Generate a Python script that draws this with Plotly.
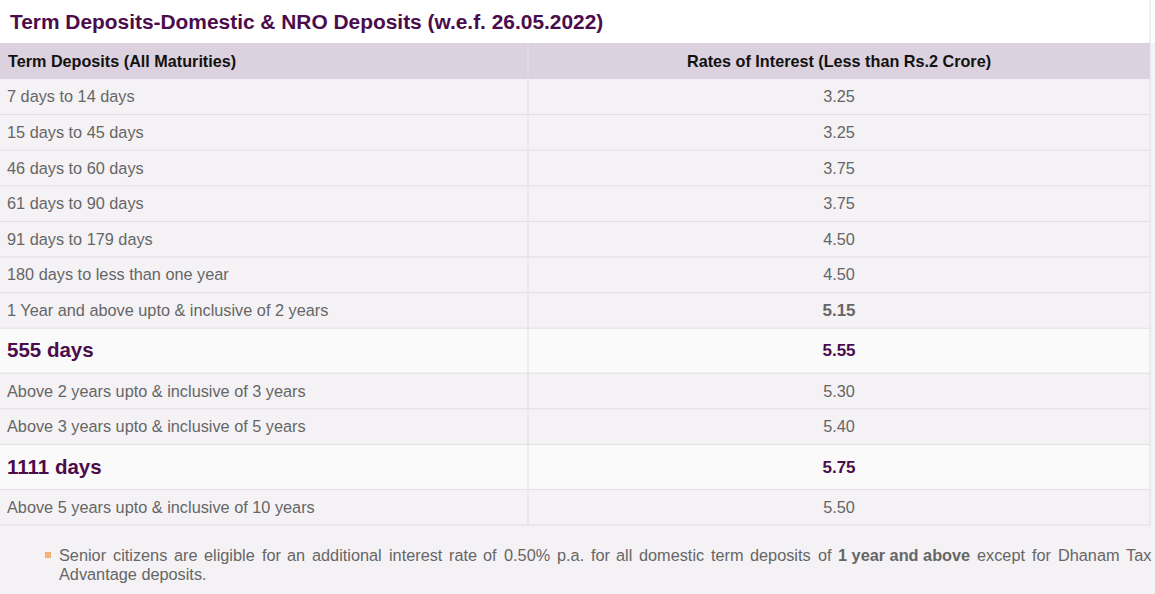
import numpy as np
import plotly.graph_objects as go

# Table content
title = "Term Deposits-Domestic & NRO Deposits (w.e.f. 26.05.2022)"
col_headers = ["Term Deposits (All Maturities)", "Rates of Interest (Less than Rs.2 Crore)"]
tenures = [
    "7 days to 14 days",
    "15 days to 45 days",
    "46 days to 60 days",
    "61 days to 90 days",
    "91 days to 179 days",
    "180 days to less than one year",
    "1 Year and above upto & inclusive of 2 years",
    "555 days",
    "Above 2 years upto & inclusive of 3 years",
    "Above 3 years upto & inclusive of 5 years",
    "1111 days",
    "Above 5 years upto & inclusive of 10 years",
]
rates = [3.25, 3.25, 3.75, 3.75, 4.50, 4.50, 5.15, 5.55, 5.30, 5.40, 5.75, 5.50]
special = [False, False, False, False, False, False, False, True, False, False, True, False]
bold_rate = [False, False, False, False, False, False, True, True, False, False, True, False]
note_words = ["Senior", "citizens", "are", "eligible", "for", "an", "additional", "interest", "rate", "of",
              "0.50%", "p.a.", "for", "all", "domestic", "term", "deposits", "of", "1 year and above",
              "except", "for", "Dhanam", "Tax"]
note_bold = "1 year and above"
note2 = "Advantage deposits."

# look
W, H = 1155, 594
FONT = "Liberation Sans, Arial, sans-serif"
PURPLE = "#4b0c4c"
GREY = "#666666"
LINE = "#e2dee3"
table_right = 1150
col_split = 528
header_top, header_h = 43, 36
normal_h, special_h = 35.6, 45
NOTE_SIZE = 16.3
note_left, note_right = 58, 1152

# Arial / Liberation Sans advance widths (1/1000 em), for justifying the note line
REG = dict(zip("abcdefghilmnoprstuvxyz", [556, 556, 500, 556, 556, 278, 556, 556, 222, 222, 833, 556, 556,
                                          556, 333, 500, 278, 556, 500, 500, 500, 500]))
REG.update({"S": 667, "D": 722, "T": 611, ".": 278, "%": 889, " ": 278})
REG.update({d: 556 for d in "0123456789"})
BOLD = {"1": 556, " ": 278, "y": 556, "e": 556, "a": 556, "r": 389, "n": 611, "d": 611, "b": 611,
        "o": 611, "v": 556}


def text_width(s, bold=False):
    table = BOLD if bold else REG
    return sum(table.get(c, 556) for c in s) * NOTE_SIZE / 1000


widths = np.array([text_width(w, w == note_bold) for w in note_words])
gap = (note_right - note_left - widths.sum()) / (len(note_words) - 1)
note_x = note_left + np.concatenate([[0], np.cumsum(widths[:-1] + gap)])

heights = np.array([special_h if s else normal_h for s in special])
bottoms = header_top + header_h + np.cumsum(heights)
tops = bottoms - heights
centers = (tops + bottoms) / 2 + 1.5

shapes = []
# title strip
shapes.append(dict(type="rect", x0=0, x1=W, y0=0, y1=header_top, fillcolor="white", line_width=0, layer="below"))
# header
shapes.append(dict(type="rect", x0=0, x1=table_right, y0=header_top, y1=header_top + header_h,
                   fillcolor="#dcd1de", line_width=0, layer="below"))
for t, b, s in zip(tops, bottoms, special):
    shapes.append(dict(type="rect", x0=0, x1=table_right, y0=t, y1=b,
                       fillcolor="#fafafa" if s else "#f4f2f5", line_width=0, layer="below"))
    shapes.append(dict(type="line", x0=0, x1=table_right, y0=b, y1=b, line=dict(color=LINE, width=1)))
shapes.append(dict(type="line", x0=col_split, x1=col_split, y0=header_top, y1=bottoms[-1],
                   line=dict(color=LINE, width=1)))
shapes.append(dict(type="line", x0=table_right, x1=table_right, y0=0, y1=bottoms[-1],
                   line=dict(color=LINE, width=1)))
# bullet
shapes.append(dict(type="rect", x0=45, x1=51, y0=552, y1=558, fillcolor="#f1b27b", line_width=0))

label_text = [f"<b>{t}</b>" if s else t for t, s in zip(tenures, special)]
label_size = [20.5 if s else 16.3 for s in special]
label_color = [PURPLE if s else GREY for s in special]

rate_text = [f"<b>{r:.2f}</b>" if b else f"{r:.2f}" for r, b in zip(rates, bold_rate)]
rate_size = [17 if b else 16.3 for b in bold_rate]
rate_color = [PURPLE if s else GREY for s in special]

fig = go.Figure()
fig.add_trace(go.Scatter(x=[7] * len(tenures), y=centers, mode="text", text=label_text,
                         textposition="middle right",
                         textfont=dict(family=FONT, size=label_size, color=label_color),
                         hoverinfo="skip"))
fig.add_trace(go.Scatter(x=[(col_split + table_right) / 2] * len(rates), y=centers, mode="text",
                         text=rate_text, textposition="middle center",
                         textfont=dict(family=FONT, size=rate_size, color=rate_color),
                         hoverinfo="skip"))

note_font = dict(family=FONT, size=NOTE_SIZE, color=GREY)
annotations = [
    dict(x=8, y=21, text=f"<b>{title}</b>", xanchor="left", yanchor="middle", showarrow=False,
         font=dict(family=FONT, size=20.9, color=PURPLE)),
    dict(x=6, y=header_top + header_h / 2, text=f"<b>{col_headers[0]}</b>", xanchor="left",
         yanchor="middle", showarrow=False, font=dict(family=FONT, size=16.2, color="#111111")),
    dict(x=(col_split + table_right) / 2, y=header_top + header_h / 2, text=f"<b>{col_headers[1]}</b>",
         xanchor="center", yanchor="middle", showarrow=False, font=dict(family=FONT, size=16.2, color="#111111")),
    dict(x=57, y=574, text=note2, xanchor="left", yanchor="middle", showarrow=False, font=note_font),
]
for word, x in zip(note_words, note_x):
    txt = f"<b>{word}</b>" if word == note_bold else word
    annotations.append(dict(x=x - 1, y=555, text=txt, xanchor="left", yanchor="middle", showarrow=False,
                            font=note_font))

fig.update_layout(
    width=W, height=H,
    margin=dict(l=0, r=0, t=0, b=0),
    paper_bgcolor="#f4f2f5", plot_bgcolor="#f4f2f5",
    showlegend=False,
    shapes=shapes,
    annotations=annotations,
    xaxis=dict(range=[0, W], visible=False, fixedrange=True),
    yaxis=dict(range=[H, 0], visible=False, fixedrange=True),
)

fig.write_html("out.html", config={"displayModeBar": False},
               post_script="document.body.style.margin='0';")
